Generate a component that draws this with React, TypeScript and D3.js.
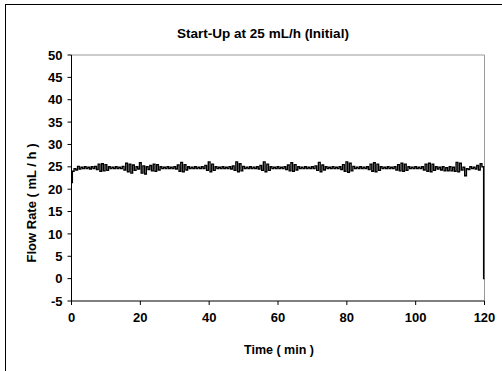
import React from "react";
import * as d3 from "d3";

const TITLE = "Start-Up at 25 mL/h (Initial)";
const X_LABEL = "Time ( min )";
const Y_LABEL = "Flow Rate ( mL / h )";
const X_TICKS = [0, 20, 40, 60, 80, 100, 120];
const Y_TICKS = [-5, 0, 5, 10, 15, 20, 25, 30, 35, 40, 45, 50];
const SAMPLE_STEP_MIN = 0.5;

// Flow rate readings every 0.5 min (mL/h)
const FLOW_RATE = [
  21.5, 24.0, 24.6, 24.3, 25.1, 24.5, 24.9, 24.6, 25.0, 24.6, 24.9, 24.5, 25.0, 24.6, 25.1, 24.4, 25.6, 24.0, 25.7, 24.1,
  25.5, 24.2, 25.0, 24.6, 24.9, 24.6, 25.0, 24.6, 24.9, 24.6, 25.1, 24.3, 25.8, 23.9, 25.6, 23.6, 25.4, 24.2, 25.0, 24.5,
  25.9, 23.6, 25.2, 23.4, 25.0, 24.4, 25.3, 24.1, 25.6, 24.0, 25.5, 24.3, 25.0, 24.6, 24.9, 24.6, 25.0, 24.6, 24.9, 24.6,
  25.0, 24.5, 25.4, 24.0, 26.0, 23.9, 25.5, 24.3, 25.0, 24.6, 24.9, 24.6, 25.0, 24.6, 24.9, 24.6, 25.0, 24.6, 25.3, 24.2,
  26.1, 23.9, 25.6, 24.2, 25.0, 24.6, 24.9, 24.6, 25.0, 24.6, 24.9, 24.6, 25.0, 24.5, 25.2, 24.2, 26.1, 23.9, 25.7, 24.1,
  25.1, 24.6, 24.9, 24.6, 25.0, 24.6, 24.9, 24.6, 25.0, 24.5, 25.3, 24.2, 26.1, 23.9, 25.6, 24.2, 25.0, 24.6, 24.9, 24.6,
  25.0, 24.6, 24.9, 24.6, 25.0, 24.4, 25.4, 24.1, 25.9, 24.0, 25.5, 24.3, 25.0, 24.6, 24.9, 24.6, 25.0, 24.6, 24.9, 24.6,
  25.0, 24.6, 25.2, 24.2, 26.0, 23.9, 25.4, 24.3, 25.0, 24.6, 24.9, 24.6, 25.0, 24.6, 24.9, 24.6, 25.0, 24.4, 25.5, 24.0,
  26.1, 23.8, 25.8, 24.1, 25.1, 24.6, 24.9, 24.6, 25.0, 24.6, 24.9, 24.6, 25.0, 24.4, 25.6, 24.0, 25.9, 23.9, 25.6, 24.2,
  25.0, 24.6, 24.9, 24.6, 25.0, 24.6, 24.9, 24.6, 25.0, 24.3, 25.5, 24.1, 25.8, 24.0, 25.6, 24.2, 25.0, 24.6, 24.9, 24.6,
  25.0, 24.6, 24.9, 24.6, 25.0, 24.3, 25.6, 24.0, 25.8, 23.9, 25.6, 24.2, 25.0, 24.5, 24.9, 24.3, 25.0, 24.1, 24.8, 24.1,
  25.0, 24.1, 24.9, 24.0, 26.0, 23.9, 25.8, 24.3, 24.9, 23.0, 24.6, 24.4, 25.0, 24.6, 24.9, 24.5, 25.3, 24.3, 25.7, 25.0,
  0.0,
];

const W = 502;
const H = 371;
const PLOT = { left: 71.5, right: 484.5, top: 55, bottom: 301 };
const FONT = "'Liberation Sans', Arial, Helvetica, sans-serif";

export default function App() {
  const x = d3.scaleLinear().domain([0, 120]).range([PLOT.left, PLOT.right]);
  const y = d3.scaleLinear().domain([-5, 50]).range([PLOT.bottom, PLOT.top]);
  const data = FLOW_RATE.map((v, i) => ({ t: i * SAMPLE_STEP_MIN, v }));
  const line = d3
    .line<{ t: number; v: number }>()
    .x((d) => x(d.t))
    .y((d) => y(d.v))
    .curve(d3.curveStep);

  return (
    <svg
      width={W}
      height={H}
      style={{ position: "absolute", left: 0, top: 0, background: "#fff" }}
      fontFamily={FONT}
    >
      <rect x={0} y={0} width={W} height={H} fill="#fff" />
      {/* outer chart border */}
      <rect x={5.5} y={4.5} width={600} height={500} fill="none" stroke="#000" strokeWidth={1} />

      {/* plot frame (top/right grey) */}
      <line x1={PLOT.left} x2={PLOT.right} y1={PLOT.top} y2={PLOT.top} stroke="#999" strokeWidth={1} />
      <line x1={PLOT.right} x2={PLOT.right} y1={PLOT.top} y2={PLOT.bottom} stroke="#999" strokeWidth={1} />

      {/* data line */}
      <path d={line(data) || ""} fill="none" stroke="#000" strokeWidth={1.4} strokeLinejoin="miter" />

      {/* y axis */}
      <line x1={PLOT.left} x2={PLOT.left} y1={PLOT.top} y2={PLOT.bottom} stroke="#000" strokeWidth={1} />
      {Y_TICKS.map((t) => (
        <g key={"y" + t}>
          <line x1={PLOT.left - 4} x2={PLOT.left} y1={y(t)} y2={y(t)} stroke="#000" strokeWidth={1} />
          <text
            x={PLOT.left - 9}
            y={y(t)}
            dy="0.36em"
            textAnchor="end"
            fontSize={13}
            fontWeight="bold"
            fill="#000"
          >
            {t}
          </text>
        </g>
      ))}

      {/* x axis */}
      <line x1={PLOT.left} x2={PLOT.right} y1={PLOT.bottom} y2={PLOT.bottom} stroke="#000" strokeWidth={1} />
      {X_TICKS.map((t) => (
        <g key={"x" + t}>
          <line x1={x(t)} x2={x(t)} y1={PLOT.bottom} y2={PLOT.bottom + 4} stroke="#000" strokeWidth={1} />
          <text x={x(t)} y={322} textAnchor="middle" fontSize={13} fontWeight="bold" fill="#000">
            {t}
          </text>
        </g>
      ))}

      <text x={263} y={38} textAnchor="middle" fontSize={13.5} fontWeight="bold" fill="#000">
        {TITLE}
      </text>
      <text x={279} y={354} textAnchor="middle" fontSize={12.5} fontWeight="bold" fill="#000">
        {X_LABEL}
      </text>
      <text
        transform={`translate(36,${203}) rotate(-90)`}
        textAnchor="middle"
        fontSize={13}
        fontWeight="bold"
        fill="#000"
      >
        {Y_LABEL}
      </text>
    </svg>
  );
}
